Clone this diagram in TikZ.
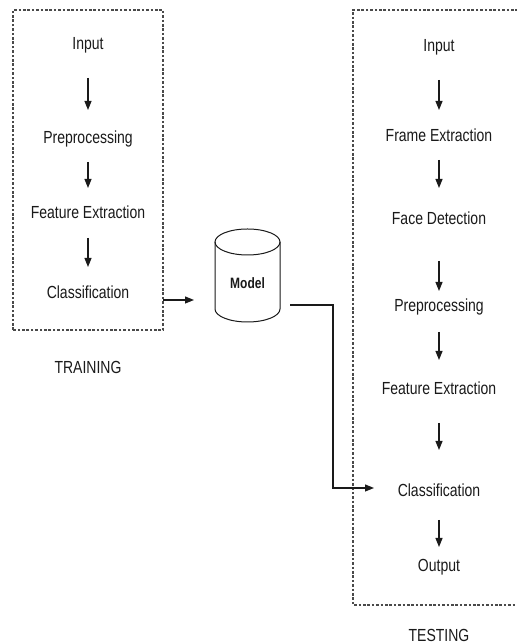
\documentclass[tikz,border=0pt]{standalone}
\usepackage{graphicx}
\usepackage{fontspec}
\setmainfont{Liberation Sans}
\usetikzlibrary{arrows.meta}
\newcommand\vstr[1]{\scalebox{1}[1.25]{#1}}
\definecolor{ink}{HTML}{1A1A1A}
\definecolor{boxgray}{HTML}{4A4A4A}
\begin{document}
\begin{tikzpicture}[x=1pt,y=1pt,
  lbl/.style={inner sep=0pt, text=ink, font=\fontsize{14}{16}\selectfont, text height=12.5pt, text depth=0pt},
  mlbl/.style={inner sep=0pt, text=ink, font=\fontsize{12}{14}\selectfont\bfseries, text height=10.8pt, text depth=0pt},
  arr/.style={draw=ink, line width=1.1pt, -{Triangle[length=9pt,width=7pt]}},
  dashbox/.style={draw=boxgray, line width=1.1pt, dash pattern=on 2.6pt off 1.8pt},
  cyl/.style={draw=ink, line width=1pt}]
\useasboundingbox (0,0) rectangle (516,644);
\path[fill=white] (0,0) rectangle (516,644);

% training box
\draw[dashbox] (13,314) rectangle (163,634);
\node[lbl] (in1) at (88,601) {\vstr{Input}};
\node[lbl] (pp1) at (88,507) {\vstr{Preprocessing}};
\node[lbl] (fe1) at (88,432) {\vstr{Feature Extraction}};
\node[lbl] (cl1) at (88,352) {\vstr{Classification}};
\node[lbl] (trn) at (88,277) {\vstr{TRAINING}};
\draw[arr] ([yshift=-35pt]in1.center) -- ([yshift=27pt]pp1.center);
\draw[arr] ([yshift=-25pt]pp1.center) -- ([yshift=24pt]fe1.center);
\draw[arr] ([yshift=-26pt]fe1.center) -- ([yshift=25pt]cl1.center);

% model cylinder
\node[minimum width=65pt, minimum height=93pt, inner sep=0pt] (cylbox) at (247.5,368.5) {};
\draw[cyl] (215,402) -- (215,335) arc[start angle=180, end angle=360, x radius=32.5pt, y radius=13pt] -- (280,402);
\draw[cyl] (247.5,402) ellipse [x radius=32.5pt, y radius=13pt];
\node[mlbl] (model) at (247.5,361) {\vstr{Model}};

% training -> model
\coordinate (trout) at (163,344);
\coordinate (trend) at (194,344);
\draw[arr] (trout) -- (trend);

% testing box
\draw[dashbox] (518,634) -- (353,634) -- (353,39) -- (518,39);
\node[lbl] (in2) at (439,599) {\vstr{Input}};
\node[lbl] (fr2) at (439,509) {\vstr{Frame Extraction}};
\node[lbl] (fd2) at (439,426) {\vstr{Face Detection}};
\node[lbl] (pp2) at (439,339) {\vstr{Preprocessing}};
\node[lbl] (fe2) at (439,256) {\vstr{Feature Extraction}};
\node[lbl] (cl2) at (439,154) {\vstr{Classification}};
\node[lbl] (out2) at (439,79) {\vstr{Output}};
\node[lbl] (tst) at (439,9) {\vstr{TESTING}};
\draw[arr] ([yshift=-35pt]in2.center) -- ([yshift=25pt]fr2.center);
\draw[arr] ([yshift=-25pt]fr2.center) -- ([yshift=30pt]fd2.center);
\draw[arr] ([yshift=-43pt]fd2.center) -- ([yshift=14pt]pp2.center);
\draw[arr] ([yshift=-27pt]pp2.center) -- ([yshift=28pt]fe2.center);
\draw[arr] ([yshift=-35pt]fe2.center) -- ([yshift=40pt]cl2.center);
\draw[arr] ([yshift=-30pt]cl2.center) -- ([yshift=18pt]out2.center);

% model -> testing classification
\coordinate (mout) at (290,339);
\coordinate (mbend) at (333,156);
\coordinate (mend) at (374,156);
\draw[arr] (mout) -| (mbend) -- (mend);
\end{tikzpicture}
\end{document}
